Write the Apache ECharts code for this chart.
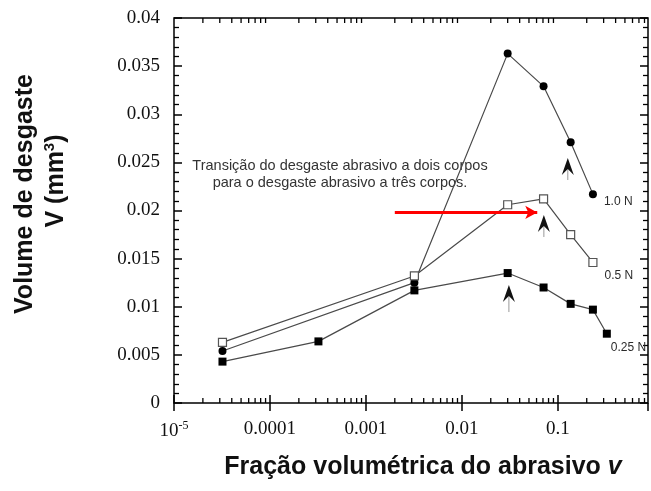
<!DOCTYPE html>
<html>
<head>
<meta charset="utf-8">
<script src="https://cdn.jsdelivr.net/npm/echarts@6/dist/echarts.min.js"></script>
<style>
  html, body { margin: 0; padding: 0; background: #fff; }
  #chart { width: 651px; height: 491px; }
</style>
</head>
<body>
<div id="chart"></div>
<script>
// Abrasive volume fraction (log scale)
const fractions = [3.2e-5, 3.2e-4, 3.2e-3, 0.030, 0.071, 0.136, 0.232, 0.324];

// Wear volume (mm^3) for each applied load
const load10 = [0.0054, 0.0125, 0.0363, 0.0329, 0.0271, 0.0217];
const load05 = [0.0063, 0.0132, 0.0206, 0.0212, 0.0175, 0.0146];
const load025 = [0.0043, 0.0064, 0.0117, 0.0135, 0.0120, 0.0103, 0.0097, 0.0072];
const load10X = [fractions[0], fractions[2], fractions[3], fractions[4], fractions[5], fractions[6]];
const load05X = load10X;
const load025X = fractions;

const seriesNames = ['1.0 N', '0.5 N', '0.25 N'];

// Tick labels
const yTickLabels = ['0', '0.005', '0.01', '0.015', '0.02', '0.025', '0.03', '0.035', '0.04'];
const xTickLabels = { '-5': '{b|10}{s|-5}', '-4': '{b|0.0001}', '-3': '{b|0.001}', '-2': '{b|0.01}', '-1': '{b|0.1}' };

// Transition markers: [fraction, tip volume, stem end volume]
const transitions = [
  [0.127, 0.02545, 0.02317],
  [0.0715, 0.01953, 0.01725],
  [0.0309, 0.01226, 0.00945]
];

// Red arrow pointing at the transition
const redArrow = [[0.002, 0.0198], [0.061, 0.0198]];

const annotation = 'Transição do desgaste abrasivo a dois corpos\npara o desgaste abrasivo a três corpos.';

const X_MIN = 1e-5, X_MAX = 0.87;

// minor log ticks 2..9 per decade
const minorX = [];
for (let n = -5; n <= -1; n++) {
  for (let k = 2; k <= 9; k++) {
    const v = k * Math.pow(10, n);
    if (v < X_MAX) minorX.push([v, 0]);
  }
}

const pair = (xs, ys) => xs.map((x, i) => [x, ys[i]]);

function withEndLabel(points, offset) {
  return points.map((p, i) => {
    if (i !== points.length - 1) return p;
    return {
      value: p,
      label: {
        show: true, position: 'right', offset: offset,
        formatter: '{a}',
        fontFamily: 'Liberation Sans, Arial, sans-serif',
        fontSize: 12, color: '#2a2a2a'
      }
    };
  });
}

const lineColor = '#4a4a4a';
const serif = 'Liberation Serif, Times New Roman, serif';
const sans = 'Liberation Sans, Arial, sans-serif';

const chart = echarts.init(document.getElementById('chart'), null, { renderer: 'canvas' });

chart.setOption({
  animation: false,
  backgroundColor: '#fff',
  grid: {
    left: 174, top: 18, right: 3, bottom: 88,
    show: true, borderColor: '#000', borderWidth: 1.5, backgroundColor: 'transparent'
  },
  xAxis: [
    {
      type: 'log', logBase: 10, min: X_MIN, max: X_MAX, position: 'bottom',
      axisLine: { show: false },
      axisTick: { show: true, inside: true, length: 8, lineStyle: { color: '#000', width: 1.5 } },
      splitLine: { show: false },
      axisLabel: {
        margin: 17, showMaxLabel: false,
        formatter: v => xTickLabels[String(Math.round(Math.log10(v)))] || '',
        rich: {
          b: { fontFamily: serif, fontSize: 19, color: '#111' },
          s: { fontFamily: serif, fontSize: 12, color: '#111', verticalAlign: 'top', padding: [0, 0, 10, 0] }
        }
      }
    },
    {
      type: 'log', logBase: 10, min: X_MIN, max: X_MAX, position: 'top',
      axisLine: { show: false },
      axisTick: { show: true, inside: true, length: 8, lineStyle: { color: '#000', width: 1.5 } },
      splitLine: { show: false },
      axisLabel: { show: false }
    }
  ],
  yAxis: [
    {
      type: 'value', min: 0, max: 0.04, interval: 0.005, position: 'left',
      axisLine: { show: false },
      axisTick: { show: true, inside: true, length: 8, lineStyle: { color: '#000', width: 1.5 } },
      minorTick: { show: true, splitNumber: 5, length: 5, lineStyle: { color: '#000', width: 1.3 } },
      splitLine: { show: false },
      axisLabel: {
        margin: 14, fontFamily: serif, fontSize: 19, color: '#111',
        formatter: v => yTickLabels[Math.round(v / 0.005)]
      }
    },
    {
      type: 'value', min: 0, max: 0.04, interval: 0.005, position: 'right',
      axisLine: { show: false },
      axisTick: { show: true, inside: true, length: 8, lineStyle: { color: '#000', width: 1.5 } },
      minorTick: { show: true, splitNumber: 5, length: 5, lineStyle: { color: '#000', width: 1.3 } },
      splitLine: { show: false },
      axisLabel: { show: false }
    }
  ],
  graphic: [
    {
      type: 'text', x: 25, y: 194, rotation: Math.PI / 2,
      style: {
        text: 'Volume de desgaste', font: 'bold 25px ' + sans,
        fill: '#111', align: 'center', verticalAlign: 'middle'
      }
    },
    {
      type: 'text', x: 56, y: 181, rotation: Math.PI / 2,
      style: {
        text: '{n|V (mm}{s|3}{n|)}', fill: '#111', align: 'center', verticalAlign: 'middle',
        rich: {
          n: { fontFamily: sans, fontWeight: 'bold', fontSize: 25, fill: '#111' },
          s: { fontFamily: sans, fontWeight: 'bold', fontSize: 15, fill: '#111', verticalAlign: 'top', padding: [0, 0, 12, 0] }
        }
      }
    },
    {
      type: 'text', x: 423, y: 467,
      style: {
        text: '{n|Fração volumétrica do abrasivo }{i|v}', align: 'center', verticalAlign: 'middle',
        rich: {
          n: { fontFamily: sans, fontWeight: 'bold', fontSize: 25, fill: '#111' },
          i: { fontFamily: sans, fontWeight: 'bold', fontStyle: 'italic', fontSize: 25, fill: '#111' }
        }
      }
    },
    {
      type: 'text', x: 340, y: 174,
      style: {
        text: annotation, font: '14.5px ' + sans, fill: '#333',
        align: 'center', verticalAlign: 'middle', lineHeight: 17
      }
    }
  ],
  series: [
    {
      // minor log ticks on bottom and top edges
      type: 'custom', silent: true, xAxisIndex: 0, yAxisIndex: 0, clip: false, z: 1,
      data: minorX,
      renderItem: (params, api) => {
        const x = api.coord([api.value(0), 0])[0];
        const cs = params.coordSys;
        const st = { stroke: '#000', lineWidth: 1.3 };
        return {
          type: 'group',
          children: [
            { type: 'line', shape: { x1: x, y1: cs.y + cs.height, x2: x, y2: cs.y + cs.height - 5 }, style: st },
            { type: 'line', shape: { x1: x, y1: cs.y, x2: x, y2: cs.y + 5 }, style: st }
          ]
        };
      }
    },
    {
      name: seriesNames[0], type: 'line', data: withEndLabel(pair(load10X, load10), [2, 8]),
      symbol: 'circle', symbolSize: 8,
      lineStyle: { color: lineColor, width: 1.2 },
      itemStyle: { color: '#000' }, z: 3
    },
    {
      name: seriesNames[1], type: 'line', data: withEndLabel(pair(load05X, load05), [2, 13]),
      symbol: 'rect', symbolSize: 8,
      lineStyle: { color: lineColor, width: 1.2 },
      itemStyle: { color: '#fff', borderColor: '#555', borderWidth: 1.2 }, z: 3,
      markLine: {
        silent: true, symbol: ['none', 'arrow'], symbolSize: [10, 12],
        label: { show: false },
        lineStyle: { color: '#ff0000', width: 3, type: 'solid' },
        data: [[{ coord: redArrow[0] }, { coord: redArrow[1] }]]
      }
    },
    {
      name: seriesNames[2], type: 'line', data: withEndLabel(pair(load025X, load025), [-5, 14]),
      symbol: 'rect', symbolSize: 8,
      lineStyle: { color: lineColor, width: 1.2 },
      itemStyle: { color: '#000' }, z: 4
    },
    {
      // transition markers: chevron head with a thin stem
      type: 'custom', silent: true, z: 5,
      data: transitions,
      renderItem: (params, api) => {
        const tip = api.coord([api.value(0), api.value(1)]);
        const end = api.coord([api.value(0), api.value(2)]);
        return {
          type: 'group',
          children: [
            { type: 'line', shape: { x1: tip[0], y1: tip[1] + 11, x2: end[0], y2: end[1] },
              style: { stroke: '#999', lineWidth: 1 } },
            { type: 'polygon',
              shape: { points: [[tip[0], tip[1]], [tip[0] + 6, tip[1] + 17], [tip[0], tip[1] + 11], [tip[0] - 6, tip[1] + 17]] },
              style: { fill: '#111' } }
          ]
        };
      }
    }
  ]
});
</script>
</body>
</html>
